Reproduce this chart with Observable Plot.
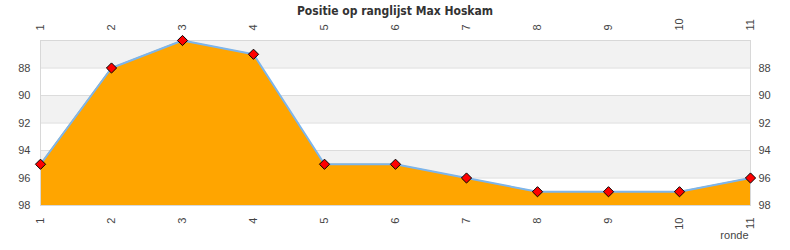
<!DOCTYPE html>
<html>
<head>
<meta charset="utf-8">
<script src="https://cdn.jsdelivr.net/npm/d3@7"></script>
<script src="https://cdn.jsdelivr.net/npm/@observablehq/plot@0.6"></script>
<style>
  body { margin: 0; background: #fff; }
  #wrap { position: relative; width: 790px; height: 250px; }
  #title { position: absolute; left: 0; top: 0; width: 790px; height: 20px; line-height: 22px; text-align: center; font-family: "DejaVu Sans Condensed", "DejaVu Sans", sans-serif; font-weight: bold; font-size: 12px; color: #333; z-index: 2; pointer-events: none; }
</style>
</head>
<body>
<div id="wrap">
<div id="title">Positie op ranglijst Max Hoskam</div>
<div id="chart"></div>
</div>
<script>
const rounds = [1, 2, 3, 4, 5, 6, 7, 8, 9, 10, 11];
const positions = [95, 88, 86, 87, 95, 95, 96, 97, 97, 97, 96];
const yTicks = [88, 90, 92, 94, 96, 98];
const yDomain = [98, 86];
const bandStarts = [86, 90, 94];
const bandHeight = 2;
const xLabel = "ronde";

const data = rounds.map((r, i) => ({ronde: r, positie: positions[i]}));
const font = "Liberation Sans, Arial, sans-serif";

const chart = Plot.plot({
  width: 790,
  height: 250,
  marginLeft: 40,
  marginRight: 40,
  marginTop: 40,
  marginBottom: 45,
  style: { fontFamily: font, fontSize: "11px", color: "#444", background: "#fff" },
  x: { domain: [rounds[0], rounds[rounds.length - 1]], ticks: rounds },
  y: { domain: yDomain, ticks: yTicks },
  marks: [
    Plot.rect(bandStarts, { x1: rounds[0], x2: rounds[rounds.length - 1], y1: d => d, y2: d => d + bandHeight, fill: "#f2f2f2" }),
    Plot.ruleY(yTicks, { stroke: "#dcdcdc", strokeWidth: 1 }),
    Plot.areaY(data, { x: "ronde", y1: yDomain[0], y2: "positie", fill: "#FFA500" }),
    Plot.frame({ stroke: "#d8d8d8" }),
    Plot.lineY(data, { x: "ronde", y: "positie", stroke: "#7cb5ec", strokeWidth: 2 }),
    Plot.dot(data, { x: "ronde", y: "positie", symbol: "diamond2", r: 4.6, fill: "red", stroke: "black", strokeWidth: 1 }),
    Plot.axisX({ anchor: "top", ticks: rounds, tickSize: 0, tickPadding: 10, tickRotate: -90, label: null, fill: "#444" }),
    Plot.axisX({ anchor: "bottom", ticks: rounds, tickSize: 0, tickPadding: 12, tickRotate: -90, label: null, fill: "#444" }),
    Plot.axisY({ anchor: "left", ticks: yTicks, tickSize: 0, tickPadding: 10, label: null, fill: "#444" }),
    Plot.axisY({ anchor: "right", ticks: yTicks, tickSize: 0, tickPadding: 8, label: null, fill: "#444" }),
    Plot.text([xLabel], { text: d => d, frameAnchor: "bottom-right", textAnchor: "end", dx: -2, dy: 33, fill: "#444", fontSize: 11 })
  ]
});
document.getElementById("chart").appendChild(chart);
</script>
</body>
</html>
